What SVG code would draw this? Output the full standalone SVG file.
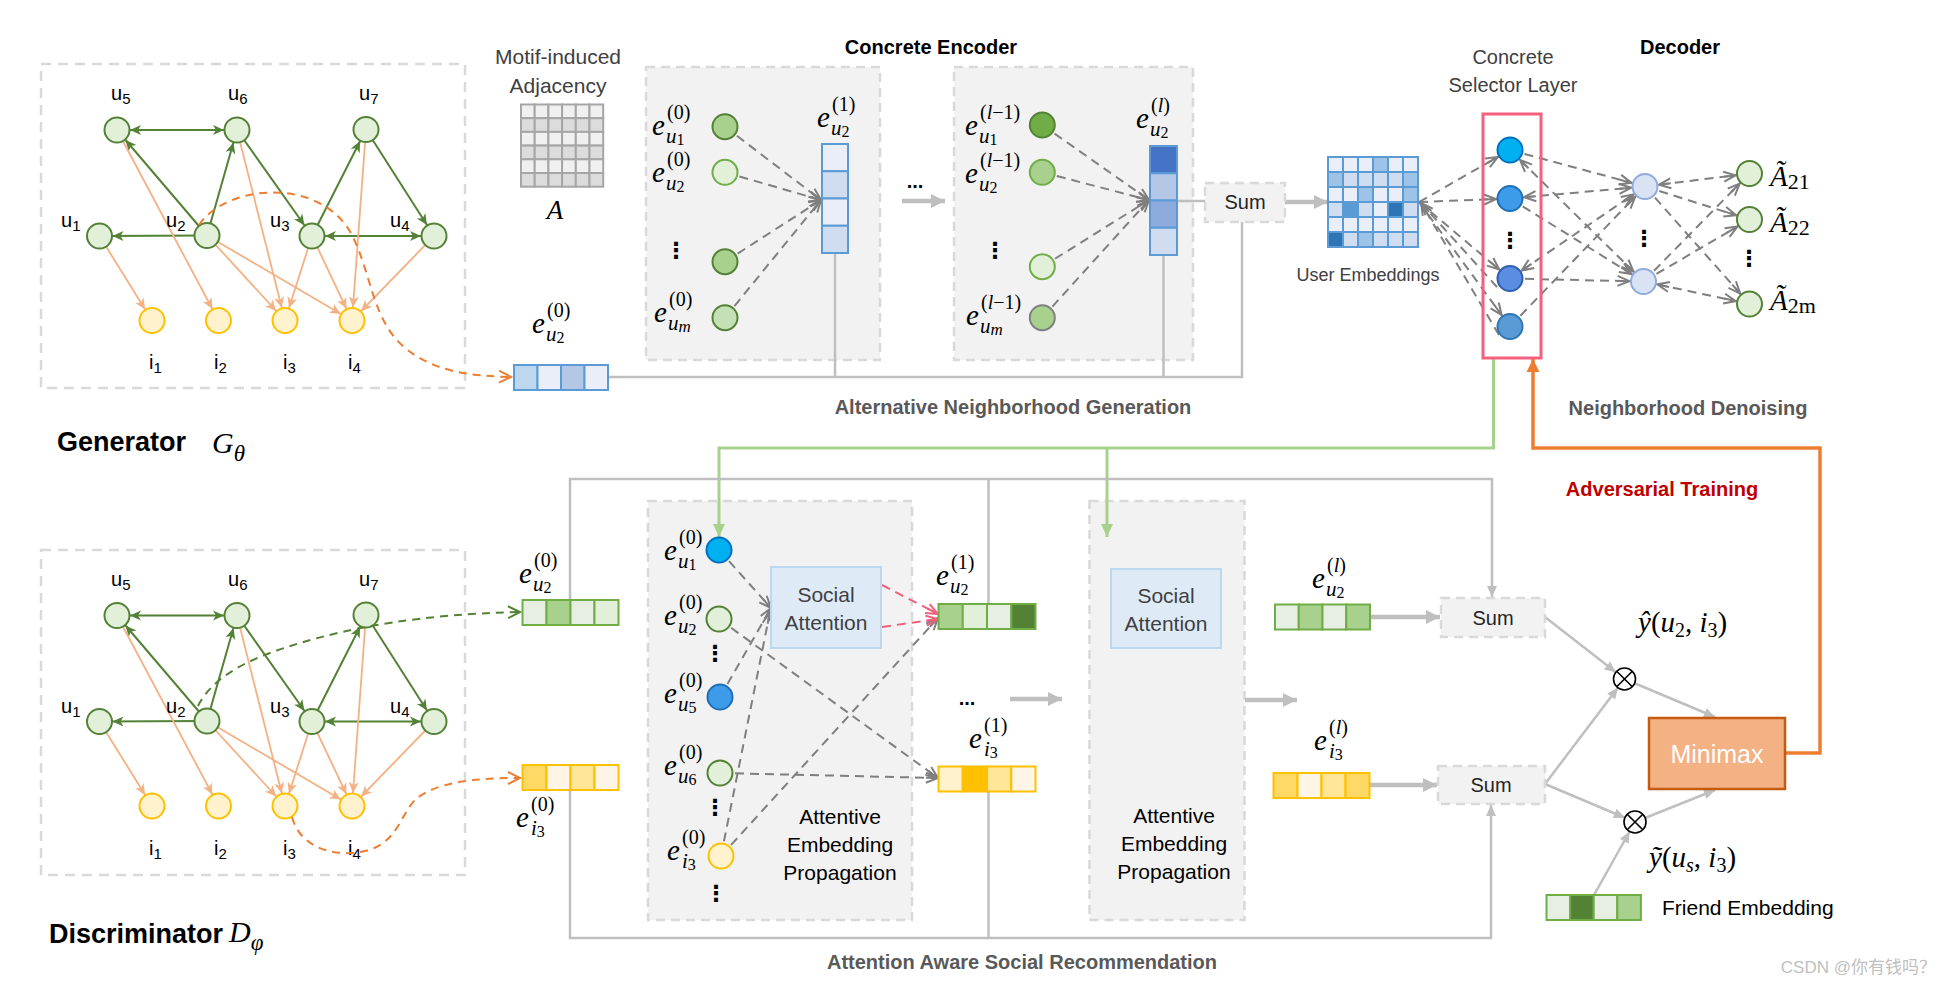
<svg xmlns="http://www.w3.org/2000/svg" width="1952" height="987" viewBox="0 0 1952 987">
<defs>
<style>
.s{font-family:'Liberation Sans',Arial,sans-serif}
.lbl{font-family:'Liberation Sans',Arial,sans-serif;font-size:20px;fill:#000}
.sb15{font-size:15px}
.ttl{font-family:'Liberation Sans',Arial,sans-serif;font-weight:bold;font-size:20px;fill:#000;text-anchor:middle}
.sec{font-family:'Liberation Sans',Arial,sans-serif;font-weight:bold;font-size:20px;fill:#595959;text-anchor:middle}
.txt{font-family:'Liberation Sans',Arial,sans-serif;font-size:20px;fill:#262626;text-anchor:middle}
.me{font-family:'Liberation Serif','Times New Roman',serif;font-style:italic;font-size:29px;fill:#000}
.ms{font-family:'Liberation Serif','Times New Roman',serif;font-size:20px;fill:#000}
.mb{font-family:'Liberation Serif','Times New Roman',serif;font-style:italic;font-size:21px;fill:#000}
.md{font-size:16px;font-style:normal}
.mdi{font-size:17px;font-style:italic}
.it{font-style:italic}
.up{font-style:normal}
.mt{font-family:'Liberation Serif','Times New Roman',serif;font-style:italic;font-size:29px;fill:#000}
.sm{font-size:20px}
.vd{font-family:'DejaVu Sans',sans-serif;font-size:22px;font-weight:bold;fill:#000;text-anchor:middle}
.box{fill:#f2f2f2;stroke:#d9d9d9;stroke-width:2.5;stroke-dasharray:9 6}
.dbox{fill:none;stroke:#d9d9d9;stroke-width:2.5;stroke-dasharray:10 7}
.gE{stroke:#538135;stroke-width:2;fill:none}
.oE{stroke:#f4b183;stroke-width:1.8;fill:none}
.gd{stroke:#7f7f7f;stroke-width:2;stroke-dasharray:9 6;fill:none}
.pk{stroke:#f0607c;stroke-width:2;stroke-dasharray:9 6;fill:none}
.gl{stroke:#bfbfbf;stroke-width:2.5;fill:none}
.gt{stroke:#bfbfbf;stroke-width:4.5;fill:none}
.un{fill:#e2f0d9;stroke:#538135;stroke-width:2}
.itm{fill:#fff2cc;stroke:#ffc000;stroke-width:2}
.vb{stroke:#5b9bd5;stroke-width:2}
.vg{stroke:#70ad47;stroke-width:2}
.vy{stroke:#ffc000;stroke-width:2}
.sa{fill:#deebf7;stroke:#bdd7ee;stroke-width:2}
.am{stroke:#a6a6a6;stroke-width:2}
.ue{stroke:#5b9bd5;stroke-width:2}
</style>
<marker id="mG" markerUnits="userSpaceOnUse" markerWidth="40" markerHeight="20" refX="24" refY="5" orient="auto-start-reverse" overflow="visible"><path d="M0,0 L11,5 L0,10 L3,5z" fill="#538135"/></marker>
<marker id="mO" markerUnits="userSpaceOnUse" markerWidth="40" markerHeight="20" refX="24" refY="5" orient="auto-start-reverse" overflow="visible"><path d="M0,0 L11,5 L0,10 L3,5z" fill="#f4b183"/></marker>
<marker id="mDv" markerUnits="userSpaceOnUse" markerWidth="20" markerHeight="20" refX="12" refY="5" orient="auto-start-reverse" overflow="visible"><path d="M0,0 L12,5 L0,10 M0,5 L12,5" fill="none" stroke="#7f7f7f" stroke-width="2"/></marker>
<marker id="mDr" markerUnits="userSpaceOnUse" markerWidth="40" markerHeight="20" refX="26" refY="5" orient="auto-start-reverse" overflow="visible"><path d="M0,0 L12,5 L0,10 M0,5 L12,5" fill="none" stroke="#7f7f7f" stroke-width="2"/></marker>
<marker id="mCo" markerUnits="userSpaceOnUse" markerWidth="20" markerHeight="20" refX="12" refY="6" orient="auto" overflow="visible"><path d="M0,0 L12,6 L0,12" fill="none" stroke="#ed7d31" stroke-width="2"/></marker>
<marker id="mCg" markerUnits="userSpaceOnUse" markerWidth="20" markerHeight="20" refX="12" refY="6" orient="auto" overflow="visible"><path d="M0,0 L12,6 L0,12" fill="none" stroke="#548235" stroke-width="2"/></marker>
<marker id="mPk" markerUnits="userSpaceOnUse" markerWidth="20" markerHeight="20" refX="12" refY="5" orient="auto" overflow="visible"><path d="M0,0 L12,5 L0,10 M0,5 L12,5" fill="none" stroke="#f0607c" stroke-width="2"/></marker>
<marker id="tS" markerUnits="userSpaceOnUse" markerWidth="20" markerHeight="20" refX="11" refY="5" orient="auto" overflow="visible"><path d="M0,0 L11,5 L0,10z" fill="#bfbfbf"/></marker>
<marker id="tSr" markerUnits="userSpaceOnUse" markerWidth="40" markerHeight="20" refX="22" refY="5" orient="auto" overflow="visible"><path d="M0,0 L11,5 L0,10z" fill="#bfbfbf"/></marker>
<marker id="tL" markerUnits="userSpaceOnUse" markerWidth="20" markerHeight="20" refX="14" refY="7" orient="auto" overflow="visible"><path d="M0,0 L14,7 L0,14z" fill="#bfbfbf"/></marker>
<marker id="tGr" markerUnits="userSpaceOnUse" markerWidth="20" markerHeight="20" refX="13" refY="6" orient="auto" overflow="visible"><path d="M0,0 L13,6 L0,12z" fill="#a9d18e"/></marker>
<marker id="tOr" markerUnits="userSpaceOnUse" markerWidth="20" markerHeight="20" refX="13" refY="6.5" orient="auto" overflow="visible"><path d="M0,0 L13,6.5 L0,13z" fill="#ed7d31"/></marker>
</defs>
<rect width="1952" height="987" fill="#ffffff"/>

<!-- containers -->
<g id="generator-box"><rect class="dbox" x="41" y="64" width="424" height="324"/></g>
<g id="discriminator-box"><rect class="dbox" x="41" y="550" width="424" height="325"/></g>
<g id="encoder-layer1"><rect class="box" x="646" y="67" width="234" height="293"/></g>
<g id="encoder-layerL"><rect class="box" x="954" y="67" width="239" height="293"/></g>
<g id="aep-1"><rect class="box" x="648" y="501" width="264" height="419"/></g>
<g id="aep-2"><rect class="box" x="1089.5" y="501" width="155" height="419"/></g>

<!-- connectors -->
<g id="connectors">
  <g id="gen-edges">
    <line class="gE" x1="117" y1="130" x2="237" y2="130" marker-start="url(#mG)" marker-end="url(#mG)"/>
    <line class="gE" x1="207" y1="235.5" x2="117" y2="130" marker-end="url(#mG)"/>
    <line class="gE" x1="207" y1="235.5" x2="237" y2="130" marker-end="url(#mG)"/>
    <line class="gE" x1="237" y1="130" x2="312" y2="236" marker-end="url(#mG)"/>
    <line class="gE" x1="312" y1="236" x2="366" y2="129.5" marker-end="url(#mG)"/>
    <line class="gE" x1="366" y1="129.5" x2="434" y2="236" marker-end="url(#mG)"/>
    <line class="gE" x1="312" y1="236" x2="434" y2="236" marker-start="url(#mG)" marker-end="url(#mG)"/>
    <line class="gE" x1="207" y1="235.5" x2="99.5" y2="236" marker-end="url(#mG)"/>
    <line class="oE" x1="99.5" y1="236" x2="152" y2="320.5" marker-end="url(#mO)"/>
    <line class="oE" x1="117" y1="130" x2="218.5" y2="320.5" marker-end="url(#mO)"/>
    <line class="oE" x1="207" y1="235.5" x2="285" y2="320.5" marker-end="url(#mO)"/>
    <line class="oE" x1="207" y1="235.5" x2="352" y2="320.5" marker-end="url(#mO)"/>
    <line class="oE" x1="237" y1="130" x2="285" y2="320.5" marker-end="url(#mO)"/>
    <line class="oE" x1="312" y1="236" x2="285" y2="320.5" marker-end="url(#mO)"/>
    <line class="oE" x1="312" y1="236" x2="352" y2="320.5" marker-end="url(#mO)"/>
    <line class="oE" x1="366" y1="129.5" x2="352" y2="320.5" marker-end="url(#mO)"/>
    <line class="oE" x1="434" y1="236" x2="352" y2="320.5" marker-end="url(#mO)"/>
  </g>
  <g id="disc-edges" transform="translate(0,485.5)">
    <line class="gE" x1="117" y1="130" x2="237" y2="130" marker-start="url(#mG)" marker-end="url(#mG)"/>
    <line class="gE" x1="207" y1="235.5" x2="117" y2="130" marker-end="url(#mG)"/>
    <line class="gE" x1="207" y1="235.5" x2="237" y2="130" marker-end="url(#mG)"/>
    <line class="gE" x1="237" y1="130" x2="312" y2="236" marker-end="url(#mG)"/>
    <line class="gE" x1="312" y1="236" x2="366" y2="129.5" marker-end="url(#mG)"/>
    <line class="gE" x1="366" y1="129.5" x2="434" y2="236" marker-end="url(#mG)"/>
    <line class="gE" x1="312" y1="236" x2="434" y2="236" marker-start="url(#mG)" marker-end="url(#mG)"/>
    <line class="gE" x1="207" y1="235.5" x2="99.5" y2="236" marker-end="url(#mG)"/>
    <line class="oE" x1="99.5" y1="236" x2="152" y2="320.5" marker-end="url(#mO)"/>
    <line class="oE" x1="117" y1="130" x2="218.5" y2="320.5" marker-end="url(#mO)"/>
    <line class="oE" x1="207" y1="235.5" x2="285" y2="320.5" marker-end="url(#mO)"/>
    <line class="oE" x1="207" y1="235.5" x2="352" y2="320.5" marker-end="url(#mO)"/>
    <line class="oE" x1="237" y1="130" x2="285" y2="320.5" marker-end="url(#mO)"/>
    <line class="oE" x1="312" y1="236" x2="285" y2="320.5" marker-end="url(#mO)"/>
    <line class="oE" x1="312" y1="236" x2="352" y2="320.5" marker-end="url(#mO)"/>
    <line class="oE" x1="366" y1="129.5" x2="352" y2="320.5" marker-end="url(#mO)"/>
    <line class="oE" x1="434" y1="236" x2="352" y2="320.5" marker-end="url(#mO)"/>
  </g>

  <line class="gd" x1="725" y1="126.7" x2="821" y2="200" marker-end="url(#mDv)"/>
  <line class="gd" x1="725" y1="172.3" x2="821" y2="200" marker-end="url(#mDv)"/>
  <line class="gd" x1="725" y1="261.7" x2="821" y2="200" marker-end="url(#mDv)"/>
  <line class="gd" x1="725" y1="317.7" x2="821" y2="200" marker-end="url(#mDv)"/>
  <line class="gd" x1="1042.3" y1="125" x2="1149" y2="200" marker-end="url(#mDv)"/>
  <line class="gd" x1="1042.3" y1="172.3" x2="1149" y2="200" marker-end="url(#mDv)"/>
  <line class="gd" x1="1042.3" y1="266.7" x2="1149" y2="200" marker-end="url(#mDv)"/>
  <line class="gd" x1="1042.3" y1="317.7" x2="1149" y2="200" marker-end="url(#mDv)"/>

  <path class="gl" d="M608,377 H1242 V222"/>
  <path class="gl" d="M835,253 V377"/>
  <path class="gl" d="M1163.5,255 V377"/>
  <path class="gl" d="M1177,201 H1205"/>
  <line class="gt" x1="902" y1="201" x2="945" y2="201" marker-end="url(#tL)"/>
  <line class="gt" x1="1285" y1="202" x2="1328" y2="202" marker-end="url(#tL)"/>

  <line class="gd" x1="1419" y1="202" x2="1510" y2="150" marker-end="url(#mDr)"/>
  <line class="gd" x1="1419" y1="202" x2="1510" y2="198.5" marker-end="url(#mDr)"/>
  <line class="gd" x1="1419" y1="202" x2="1510" y2="278.5" marker-end="url(#mDr)"/>
  <line class="gd" x1="1419" y1="202" x2="1510" y2="326.5" marker-end="url(#mDr)"/>
  <line class="gd" x1="1497" y1="287" x2="1421" y2="203" marker-end="url(#mDv)"/>
  <line class="gd" x1="1499" y1="335" x2="1421" y2="203" marker-end="url(#mDv)"/>
  <line class="gd" x1="1510" y1="150" x2="1645" y2="186.5" marker-end="url(#mDr)"/>
  <line class="gd" x1="1510" y1="150" x2="1643.5" y2="281.5" marker-start="url(#mDr)" marker-end="url(#mDr)"/>
  <line class="gd" x1="1510" y1="198.5" x2="1645" y2="186.5" marker-start="url(#mDr)" marker-end="url(#mDr)"/>
  <line class="gd" x1="1510" y1="198.5" x2="1643.5" y2="281.5" marker-end="url(#mDr)"/>
  <line class="gd" x1="1510" y1="278.5" x2="1645" y2="186.5" marker-start="url(#mDr)" marker-end="url(#mDr)"/>
  <line class="gd" x1="1510" y1="278.5" x2="1643.5" y2="281.5" marker-end="url(#mDr)"/>
  <line class="gd" x1="1510" y1="326.5" x2="1645" y2="186.5" marker-end="url(#mDr)"/>
  <line class="gd" x1="1645" y1="186.5" x2="1749.5" y2="173.5" marker-start="url(#mDr)" marker-end="url(#mDr)"/>
  <line class="gd" x1="1645" y1="186.5" x2="1749.5" y2="219.5" marker-end="url(#mDr)"/>
  <line class="gd" x1="1645" y1="186.5" x2="1749.5" y2="304" marker-end="url(#mDr)"/>
  <line class="gd" x1="1643.5" y1="281.5" x2="1749.5" y2="173.5" marker-end="url(#mDr)"/>
  <line class="gd" x1="1643.5" y1="281.5" x2="1749.5" y2="219.5" marker-end="url(#mDr)"/>
  <line class="gd" x1="1643.5" y1="281.5" x2="1749.5" y2="304" marker-start="url(#mDr)" marker-end="url(#mDr)"/>

  <path d="M1493.5,358 V448 H719 V537" fill="none" stroke="#a9d18e" stroke-width="3" marker-end="url(#tGr)"/>
  <path d="M1107,448 V537" fill="none" stroke="#a9d18e" stroke-width="3" marker-end="url(#tGr)"/>
  <path d="M1785,753 H1820 V448 H1533 V359" fill="none" stroke="#ed7d31" stroke-width="3.5" marker-end="url(#tOr)"/>

  <path class="gl" d="M570,600 V479 H1492 V597" marker-end="url(#tS)"/>
  <path class="gl" d="M570,790 V938 H1491 V805" marker-end="url(#tS)"/>
  <path class="gl" d="M988.5,604 V479"/>
  <path class="gl" d="M988.5,792 V938"/>
  <line class="gt" x1="1010" y1="699" x2="1062" y2="699" marker-end="url(#tL)"/>
  <line class="gt" x1="1245" y1="700" x2="1297" y2="700" marker-end="url(#tL)"/>
  <line class="gt" x1="1370" y1="617" x2="1440" y2="617" marker-end="url(#tL)"/>
  <line class="gt" x1="1369.5" y1="785" x2="1437" y2="785" marker-end="url(#tL)"/>

  <line class="gd" x1="719" y1="550" x2="771" y2="608" marker-end="url(#mDv)"/>
  <line class="gd" x1="720" y1="697" x2="771" y2="608" marker-end="url(#mDv)"/>
  <line class="gd" x1="721" y1="856" x2="770" y2="612" marker-end="url(#mDv)"/>
  <line class="gd" x1="719" y1="619" x2="938" y2="778" marker-end="url(#mDv)"/>
  <line class="gd" x1="720" y1="773" x2="938" y2="778" marker-end="url(#mDv)"/>
  <line class="gd" x1="721" y1="856" x2="938" y2="618" marker-end="url(#mDv)"/>
  <line class="pk" x1="882" y1="585" x2="938" y2="614" marker-end="url(#mPk)"/>
  <line class="pk" x1="882" y1="627" x2="938" y2="619" marker-end="url(#mPk)"/>

  <line class="gl" x1="1545" y1="617" x2="1624.5" y2="679" marker-end="url(#tSr)"/>
  <line class="gl" x1="1545" y1="784" x2="1624.5" y2="679" marker-end="url(#tSr)"/>
  <line class="gl" x1="1545" y1="784" x2="1635" y2="822" marker-end="url(#tSr)"/>
  <line class="gl" x1="1624.5" y1="679" x2="1715" y2="717" marker-end="url(#tS)"/>
  <line class="gl" x1="1635" y1="822" x2="1715" y2="790" marker-end="url(#tS)"/>
  <line class="gl" x1="1594" y1="895" x2="1635" y2="822" marker-end="url(#tSr)"/>
</g>

<g id="gen-nodes">
  <g id="g-u5"><circle class="un" cx="117" cy="130" r="12.5"/><text class="lbl" x="111" y="100">u<tspan class="sb15" dy="4">5</tspan></text></g>
  <g id="g-u6"><circle class="un" cx="237" cy="130" r="12.5"/><text class="lbl" x="228" y="100">u<tspan class="sb15" dy="4">6</tspan></text></g>
  <g id="g-u7"><circle class="un" cx="366" cy="129.5" r="12.5"/><text class="lbl" x="359" y="100">u<tspan class="sb15" dy="4">7</tspan></text></g>
  <g id="g-u1"><circle class="un" cx="99.5" cy="236" r="12.5"/><text class="lbl" x="61" y="227">u<tspan class="sb15" dy="4">1</tspan></text></g>
  <g id="g-u2"><circle class="un" cx="207" cy="235.5" r="12.5"/><text class="lbl" x="166" y="227">u<tspan class="sb15" dy="4">2</tspan></text></g>
  <g id="g-u3"><circle class="un" cx="312" cy="236" r="12.5"/><text class="lbl" x="270" y="227">u<tspan class="sb15" dy="4">3</tspan></text></g>
  <g id="g-u4"><circle class="un" cx="434" cy="236" r="12.5"/><text class="lbl" x="390" y="227">u<tspan class="sb15" dy="4">4</tspan></text></g>
  <g id="g-i1"><circle class="itm" cx="152" cy="320.5" r="12.5"/><text class="lbl" x="149" y="369">i<tspan class="sb15" dy="4">1</tspan></text></g>
  <g id="g-i2"><circle class="itm" cx="218.5" cy="320.5" r="12.5"/><text class="lbl" x="214" y="369">i<tspan class="sb15" dy="4">2</tspan></text></g>
  <g id="g-i3"><circle class="itm" cx="285" cy="320.5" r="12.5"/><text class="lbl" x="283" y="369">i<tspan class="sb15" dy="4">3</tspan></text></g>
  <g id="g-i4"><circle class="itm" cx="352" cy="320.5" r="12.5"/><text class="lbl" x="348" y="369">i<tspan class="sb15" dy="4">4</tspan></text></g>
</g>
<g id="disc-nodes" transform="translate(0,485.5)">
  <g id="d-u5"><circle class="un" cx="117" cy="130" r="12.5"/><text class="lbl" x="111" y="100">u<tspan class="sb15" dy="4">5</tspan></text></g>
  <g id="d-u6"><circle class="un" cx="237" cy="130" r="12.5"/><text class="lbl" x="228" y="100">u<tspan class="sb15" dy="4">6</tspan></text></g>
  <g id="d-u7"><circle class="un" cx="366" cy="129.5" r="12.5"/><text class="lbl" x="359" y="100">u<tspan class="sb15" dy="4">7</tspan></text></g>
  <g id="d-u1"><circle class="un" cx="99.5" cy="236" r="12.5"/><text class="lbl" x="61" y="227">u<tspan class="sb15" dy="4">1</tspan></text></g>
  <g id="d-u2"><circle class="un" cx="207" cy="235.5" r="12.5"/><text class="lbl" x="166" y="227">u<tspan class="sb15" dy="4">2</tspan></text></g>
  <g id="d-u3"><circle class="un" cx="312" cy="236" r="12.5"/><text class="lbl" x="270" y="227">u<tspan class="sb15" dy="4">3</tspan></text></g>
  <g id="d-u4"><circle class="un" cx="434" cy="236" r="12.5"/><text class="lbl" x="390" y="227">u<tspan class="sb15" dy="4">4</tspan></text></g>
  <g id="d-i1"><circle class="itm" cx="152" cy="320.5" r="12.5"/><text class="lbl" x="149" y="369">i<tspan class="sb15" dy="4">1</tspan></text></g>
  <g id="d-i2"><circle class="itm" cx="218.5" cy="320.5" r="12.5"/><text class="lbl" x="214" y="369">i<tspan class="sb15" dy="4">2</tspan></text></g>
  <g id="d-i3"><circle class="itm" cx="285" cy="320.5" r="12.5"/><text class="lbl" x="283" y="369">i<tspan class="sb15" dy="4">3</tspan></text></g>
  <g id="d-i4"><circle class="itm" cx="352" cy="320.5" r="12.5"/><text class="lbl" x="348" y="369">i<tspan class="sb15" dy="4">4</tspan></text></g>
</g>

<g id="curves">
  <path d="M199,225 C225,185 320,175 352,235 C372,275 372,320 405,348 C435,372 470,376 511,377" fill="none" stroke="#ed7d31" stroke-width="2" stroke-dasharray="8 6" marker-end="url(#mCo)"/>
  <path d="M198,706 C215,672 260,655 300,643 C350,628 420,614 520,612" fill="none" stroke="#548235" stroke-width="2" stroke-dasharray="8 6" marker-end="url(#mCg)"/>
  <path d="M292,817 C300,848 335,858 365,851 C398,843 400,815 415,800 C435,782 475,778 520,778" fill="none" stroke="#ed7d31" stroke-width="2" stroke-dasharray="8 6" marker-end="url(#mCo)"/>
</g>

<g id="adjacency">
  <text class="txt" x="558" y="64" style="font-size:21px;fill:#404040">Motif-induced</text>
  <text class="txt" x="558" y="93" style="font-size:21px;fill:#404040">Adjacency</text>
  <g class="am">
    <rect x="521" y="104.5" width="13.7" height="13.7" fill="#f0f0f0"/><rect x="534.7" y="104.5" width="13.7" height="13.7" fill="#f0f0f0"/><rect x="548.4" y="104.5" width="13.7" height="13.7" fill="#f0f0f0"/><rect x="562.1" y="104.5" width="13.7" height="13.7" fill="#f0f0f0"/><rect x="575.8" y="104.5" width="13.7" height="13.7" fill="#f0f0f0"/><rect x="589.5" y="104.5" width="13.7" height="13.7" fill="#f0f0f0"/>
    <rect x="521" y="118.2" width="13.7" height="13.7" fill="#dcdcdc"/><rect x="534.7" y="118.2" width="13.7" height="13.7" fill="#dcdcdc"/><rect x="548.4" y="118.2" width="13.7" height="13.7" fill="#dcdcdc"/><rect x="562.1" y="118.2" width="13.7" height="13.7" fill="#dcdcdc"/><rect x="575.8" y="118.2" width="13.7" height="13.7" fill="#dcdcdc"/><rect x="589.5" y="118.2" width="13.7" height="13.7" fill="#dcdcdc"/>
    <rect x="521" y="131.9" width="13.7" height="13.7" fill="#f0f0f0"/><rect x="534.7" y="131.9" width="13.7" height="13.7" fill="#f0f0f0"/><rect x="548.4" y="131.9" width="13.7" height="13.7" fill="#f0f0f0"/><rect x="562.1" y="131.9" width="13.7" height="13.7" fill="#f0f0f0"/><rect x="575.8" y="131.9" width="13.7" height="13.7" fill="#f0f0f0"/><rect x="589.5" y="131.9" width="13.7" height="13.7" fill="#f0f0f0"/>
    <rect x="521" y="145.6" width="13.7" height="13.7" fill="#dcdcdc"/><rect x="534.7" y="145.6" width="13.7" height="13.7" fill="#dcdcdc"/><rect x="548.4" y="145.6" width="13.7" height="13.7" fill="#dcdcdc"/><rect x="562.1" y="145.6" width="13.7" height="13.7" fill="#dcdcdc"/><rect x="575.8" y="145.6" width="13.7" height="13.7" fill="#dcdcdc"/><rect x="589.5" y="145.6" width="13.7" height="13.7" fill="#dcdcdc"/>
    <rect x="521" y="159.3" width="13.7" height="13.7" fill="#f0f0f0"/><rect x="534.7" y="159.3" width="13.7" height="13.7" fill="#f0f0f0"/><rect x="548.4" y="159.3" width="13.7" height="13.7" fill="#f0f0f0"/><rect x="562.1" y="159.3" width="13.7" height="13.7" fill="#f0f0f0"/><rect x="575.8" y="159.3" width="13.7" height="13.7" fill="#f0f0f0"/><rect x="589.5" y="159.3" width="13.7" height="13.7" fill="#f0f0f0"/>
    <rect x="521" y="173" width="13.7" height="13.7" fill="#dcdcdc"/><rect x="534.7" y="173" width="13.7" height="13.7" fill="#dcdcdc"/><rect x="548.4" y="173" width="13.7" height="13.7" fill="#dcdcdc"/><rect x="562.1" y="173" width="13.7" height="13.7" fill="#dcdcdc"/><rect x="575.8" y="173" width="13.7" height="13.7" fill="#dcdcdc"/><rect x="589.5" y="173" width="13.7" height="13.7" fill="#dcdcdc"/>
  </g>
  <text class="me" x="555" y="219" text-anchor="middle" style="font-size:27px">A</text>
</g>

<g id="enc1-nodes">
  <g id="enc1-n1"><circle cx="725" cy="126.7" r="12.5" fill="#a9d18e" stroke="#538135" stroke-width="2"/></g>
  <g id="enc1-n2"><circle cx="725" cy="172.3" r="12.5" fill="#e2f0d9" stroke="#70ad47" stroke-width="2"/></g>
  <g id="enc1-n3"><circle cx="725" cy="261.7" r="12.5" fill="#a9d18e" stroke="#538135" stroke-width="2"/></g>
  <g id="enc1-n4"><circle cx="725" cy="317.7" r="12.5" fill="#c5e0b4" stroke="#538135" stroke-width="2"/></g>
  <text class="vd" x="676" y="258">⋮</text>
  <g><text class="me" x="652" y="135">e</text><text class="ms" x="667" y="119">(0)</text><text class="mb" x="666" y="143">u<tspan class="md" dy="2">1</tspan></text></g>
  <g><text class="me" x="652" y="182">e</text><text class="ms" x="667" y="166">(0)</text><text class="mb" x="666" y="190">u<tspan class="md" dy="2">2</tspan></text></g>
  <g><text class="me" x="654" y="322">e</text><text class="ms" x="669" y="306">(0)</text><text class="mb" x="668" y="330">u<tspan class="mdi" dy="2">m</tspan></text></g>
</g>
<g id="enc1-vector">
  <rect class="vb" x="822" y="144" width="26" height="27.25" fill="#e9eef8"/>
  <rect class="vb" x="822" y="171.25" width="26" height="27.25" fill="#d0dcef"/>
  <rect class="vb" x="822" y="198.5" width="26" height="27.25" fill="#e9eef8"/>
  <rect class="vb" x="822" y="225.75" width="26" height="27.25" fill="#d0dcef"/>
  <g><text class="me" x="817" y="127">e</text><text class="ms" x="832" y="111">(1)</text><text class="mb" x="831" y="135">u<tspan class="md" dy="2">2</tspan></text></g>
</g>
<text class="ttl" x="915" y="188">...</text>

<g id="encL-nodes">
  <g id="encL-n1"><circle cx="1042.3" cy="125" r="12.5" fill="#70ad47" stroke="#548235" stroke-width="2"/></g>
  <g id="encL-n2"><circle cx="1042.3" cy="172.3" r="12.5" fill="#a9d18e" stroke="#70ad47" stroke-width="2"/></g>
  <g id="encL-n3"><circle cx="1042.3" cy="266.7" r="12.5" fill="#e2f0d9" stroke="#70ad47" stroke-width="2"/></g>
  <g id="encL-n4"><circle cx="1042.3" cy="317.7" r="12.5" fill="#a9d18e" stroke="#7f7f7f" stroke-width="2"/></g>
  <text class="vd" x="995" y="258">⋮</text>
  <g><text class="me" x="965" y="135">e</text><text class="ms" x="980" y="119">(<tspan class="it">l</tspan>−1)</text><text class="mb" x="979" y="143">u<tspan class="md" dy="2">1</tspan></text></g>
  <g><text class="me" x="965" y="183">e</text><text class="ms" x="980" y="167">(<tspan class="it">l</tspan>−1)</text><text class="mb" x="979" y="191">u<tspan class="md" dy="2">2</tspan></text></g>
  <g><text class="me" x="966" y="325">e</text><text class="ms" x="981" y="309">(<tspan class="it">l</tspan>−1)</text><text class="mb" x="980" y="333">u<tspan class="mdi" dy="2">m</tspan></text></g>
</g>
<g id="encL-vector">
  <rect class="vb" x="1150" y="146" width="27" height="27.25" fill="#4472c4"/>
  <rect class="vb" x="1150" y="173.25" width="27" height="27.25" fill="#b4c7e7"/>
  <rect class="vb" x="1150" y="200.5" width="27" height="27.25" fill="#8faadc"/>
  <rect class="vb" x="1150" y="227.75" width="27" height="27.25" fill="#d0dcef"/>
  <g><text class="me" x="1136" y="128">e</text><text class="ms" x="1151" y="112">(<tspan class="it">l</tspan>)</text><text class="mb" x="1150" y="136">u<tspan class="md" dy="2">2</tspan></text></g>
</g>
<text class="ttl" x="931" y="54">Concrete Encoder</text>

<g id="sum-gen"><rect class="box" x="1205" y="183" width="80" height="39"/><text class="txt" x="1245" y="209">Sum</text></g>

<g id="gen-input-vector">
  <rect class="vb" x="514" y="365" width="23.5" height="25" fill="#bdd7ee"/>
  <rect class="vb" x="537.5" y="365" width="23.5" height="25" fill="#e9eef8"/>
  <rect class="vb" x="561" y="365" width="23.5" height="25" fill="#b4c7e7"/>
  <rect class="vb" x="584.5" y="365" width="23.5" height="25" fill="#e9eef8"/>
  <g><text class="me" x="532" y="333">e</text><text class="ms" x="547" y="317">(0)</text><text class="mb" x="546" y="341">u<tspan class="md" dy="2">2</tspan></text></g>
</g>
<text class="sec" x="1013" y="414">Alternative Neighborhood Generation</text>

<g id="user-embeddings">
  <g class="ue">
    <rect x="1328" y="157" width="15" height="15" fill="#e9eef8"/><rect x="1343" y="157" width="15" height="15" fill="#e9eef8"/><rect x="1358" y="157" width="15" height="15" fill="#e9eef8"/><rect x="1373" y="157" width="15" height="15" fill="#9dc3e6"/><rect x="1388" y="157" width="15" height="15" fill="#e9eef8"/><rect x="1403" y="157" width="15" height="15" fill="#e9eef8"/>
    <rect x="1328" y="172" width="15" height="15" fill="#9dc3e6"/><rect x="1343" y="172" width="15" height="15" fill="#d0dcef"/><rect x="1358" y="172" width="15" height="15" fill="#d0dcef"/><rect x="1373" y="172" width="15" height="15" fill="#d0dcef"/><rect x="1388" y="172" width="15" height="15" fill="#d0dcef"/><rect x="1403" y="172" width="15" height="15" fill="#9dc3e6"/>
    <rect x="1328" y="187" width="15" height="15" fill="#e9eef8"/><rect x="1343" y="187" width="15" height="15" fill="#e9eef8"/><rect x="1358" y="187" width="15" height="15" fill="#9dc3e6"/><rect x="1373" y="187" width="15" height="15" fill="#e9eef8"/><rect x="1388" y="187" width="15" height="15" fill="#e9eef8"/><rect x="1403" y="187" width="15" height="15" fill="#9dc3e6"/>
    <rect x="1328" y="202" width="15" height="15" fill="#d0dcef"/><rect x="1343" y="202" width="15" height="15" fill="#5b9bd5"/><rect x="1358" y="202" width="15" height="15" fill="#d0dcef"/><rect x="1373" y="202" width="15" height="15" fill="#e9eef8"/><rect x="1388" y="202" width="15" height="15" fill="#2e75b6"/><rect x="1403" y="202" width="15" height="15" fill="#d0dcef"/>
    <rect x="1328" y="217" width="15" height="15" fill="#e9eef8"/><rect x="1343" y="217" width="15" height="15" fill="#e9eef8"/><rect x="1358" y="217" width="15" height="15" fill="#e9eef8"/><rect x="1373" y="217" width="15" height="15" fill="#e9eef8"/><rect x="1388" y="217" width="15" height="15" fill="#e9eef8"/><rect x="1403" y="217" width="15" height="15" fill="#e9eef8"/>
    <rect x="1328" y="232" width="15" height="15" fill="#2e75b6"/><rect x="1343" y="232" width="15" height="15" fill="#d0dcef"/><rect x="1358" y="232" width="15" height="15" fill="#9dc3e6"/><rect x="1373" y="232" width="15" height="15" fill="#d0dcef"/><rect x="1388" y="232" width="15" height="15" fill="#d0dcef"/><rect x="1403" y="232" width="15" height="15" fill="#d0dcef"/>
  </g>
  <text class="txt" x="1368" y="281" style="font-size:18px;fill:#404040">User Embeddings</text>
</g>

<g id="selector-layer">
  <text class="txt" x="1513" y="64" style="fill:#404040">Concrete</text>
  <text class="txt" x="1513" y="92" style="fill:#404040">Selector Layer</text>
  <rect x="1483" y="114" width="58" height="244" fill="none" stroke="#f4607e" stroke-width="3"/>
  <g id="sel-1"><circle cx="1510" cy="150" r="12.5" fill="#00b0f0" stroke="#0070c0" stroke-width="2"/></g>
  <g id="sel-2"><circle cx="1510" cy="198.5" r="12.5" fill="#3d9be9" stroke="#1f6fb5" stroke-width="2"/></g>
  <g id="sel-3"><circle cx="1510" cy="278.5" r="12.5" fill="#5b8ee3" stroke="#2e5fae" stroke-width="2"/></g>
  <g id="sel-4"><circle cx="1510" cy="326.5" r="12.5" fill="#5b9bd5" stroke="#2e75b6" stroke-width="2"/></g>
  <text class="vd" x="1510" y="248">⋮</text>
</g>

<g id="decoder">
  <text class="ttl" x="1680" y="54">Decoder</text>
  <g id="hid-1"><circle cx="1645" cy="186.5" r="12.5" fill="#dae3f3" stroke="#8faadc" stroke-width="2"/></g>
  <g id="hid-2"><circle cx="1643.5" cy="281.5" r="12.5" fill="#dae3f3" stroke="#8faadc" stroke-width="2"/></g>
  <text class="vd" x="1644" y="246">⋮</text>
  <g id="out-21"><circle class="un" cx="1749.5" cy="173.5" r="12.5"/><text class="mt" x="1770" y="186" style="font-size:29px">Ã<tspan class="up" style="font-size:22px" dy="3">21</tspan></text></g>
  <g id="out-22"><circle class="un" cx="1749.5" cy="219.5" r="12.5"/><text class="mt" x="1770" y="232" style="font-size:29px">Ã<tspan class="up" style="font-size:22px" dy="3">22</tspan></text></g>
  <g id="out-2m"><circle class="un" cx="1749.5" cy="304" r="12.5"/><text class="mt" x="1770" y="310" style="font-size:29px">Ã<tspan class="up" style="font-size:22px" dy="3">2m</tspan></text></g>
  <text class="vd" x="1749" y="266">⋮</text>
</g>
<text class="sec" x="1688" y="415">Neighborhood Denoising</text>
<text class="sec" x="1662" y="496" style="fill:#c00000">Adversarial Training</text>

<g id="disc-user-vector">
  <rect class="vg" x="522.5" y="600" width="24" height="25" fill="#e7eee3"/>
  <rect class="vg" x="546.5" y="600" width="24" height="25" fill="#a9d18e"/>
  <rect class="vg" x="570.5" y="600" width="24" height="25" fill="#e7eee3"/>
  <rect class="vg" x="594.5" y="600" width="24" height="25" fill="#e2f0d9"/>
  <g><text class="me" x="519" y="583">e</text><text class="ms" x="534" y="567">(0)</text><text class="mb" x="533" y="591">u<tspan class="md" dy="2">2</tspan></text></g>
</g>
<g id="disc-item-vector">
  <rect class="vy" x="522.5" y="765" width="24" height="25" fill="#ffd966"/>
  <rect class="vy" x="546.5" y="765" width="24" height="25" fill="#fff5e6"/>
  <rect class="vy" x="570.5" y="765" width="24" height="25" fill="#ffe699"/>
  <rect class="vy" x="594.5" y="765" width="24" height="25" fill="#fff5e6"/>
  <g><text class="me" x="516" y="827">e</text><text class="ms" x="531" y="811">(0)</text><text class="mb" x="531" y="835">i<tspan class="md" dy="2">3</tspan></text></g>
</g>

<g id="aep1-nodes">
  <g id="a-u1"><circle cx="719" cy="550" r="12.5" fill="#00b0f0" stroke="#0070c0" stroke-width="2"/><text class="me" x="664" y="560">e</text><text class="ms" x="679" y="544">(0)</text><text class="mb" x="678" y="568">u<tspan class="md" dy="2">1</tspan></text></g>
  <g id="a-u2"><circle class="un" cx="719" cy="619" r="12.5"/><text class="me" x="664" y="625">e</text><text class="ms" x="679" y="609">(0)</text><text class="mb" x="678" y="633">u<tspan class="md" dy="2">2</tspan></text></g>
  <g id="a-u5"><circle cx="720" cy="697" r="12.5" fill="#3d9be9" stroke="#1f6fb5" stroke-width="2"/><text class="me" x="664" y="703">e</text><text class="ms" x="679" y="687">(0)</text><text class="mb" x="678" y="711">u<tspan class="md" dy="2">5</tspan></text></g>
  <g id="a-u6"><circle class="un" cx="720" cy="773" r="12.5"/><text class="me" x="664" y="775">e</text><text class="ms" x="679" y="759">(0)</text><text class="mb" x="678" y="783">u<tspan class="md" dy="2">6</tspan></text></g>
  <g id="a-i3"><circle class="itm" cx="721" cy="856" r="12.5"/><text class="me" x="667" y="860">e</text><text class="ms" x="682" y="844">(0)</text><text class="mb" x="682" y="868">i<tspan class="md" dy="2">3</tspan></text></g>
  <text class="vd" x="715" y="661">⋮</text>
  <text class="vd" x="715" y="815">⋮</text>
  <text class="vd" x="716" y="901">⋮</text>
</g>
<g id="social-attention-1"><rect class="sa" x="771" y="567" width="110" height="81"/><text class="txt" x="826" y="602" style="font-size:21px;fill:#404040">Social</text><text class="txt" x="826" y="630" style="font-size:21px;fill:#404040">Attention</text></g>
<g id="aep1-text"><text class="txt" x="840" y="824" style="font-size:21px;fill:#000">Attentive</text><text class="txt" x="840" y="852" style="font-size:21px;fill:#000">Embedding</text><text class="txt" x="840" y="880" style="font-size:21px;fill:#000">Propagation</text></g>
<g id="aep1-user-out">
  <rect class="vg" x="938.5" y="604" width="24.25" height="25" fill="#a9d18e"/>
  <rect class="vg" x="962.75" y="604" width="24.25" height="25" fill="#e2f0d9"/>
  <rect class="vg" x="987" y="604" width="24.25" height="25" fill="#e7eee3"/>
  <rect class="vg" x="1011.25" y="604" width="24.25" height="25" fill="#548235"/>
  <g><text class="me" x="936" y="585">e</text><text class="ms" x="951" y="569">(1)</text><text class="mb" x="950" y="593">u<tspan class="md" dy="2">2</tspan></text></g>
</g>
<g id="aep1-item-out">
  <rect class="vy" x="938.5" y="766.5" width="24.25" height="25" fill="#fff2cc"/>
  <rect class="vy" x="962.75" y="766.5" width="24.25" height="25" fill="#ffc000"/>
  <rect class="vy" x="987" y="766.5" width="24.25" height="25" fill="#ffe699"/>
  <rect class="vy" x="1011.25" y="766.5" width="24.25" height="25" fill="#fff5e6"/>
  <g><text class="me" x="969" y="748">e</text><text class="ms" x="984" y="732">(1)</text><text class="mb" x="984" y="756">i<tspan class="md" dy="2">3</tspan></text></g>
</g>
<text class="ttl" x="967" y="705">...</text>

<g id="social-attention-2"><rect class="sa" x="1111" y="569" width="110" height="79"/><text class="txt" x="1166" y="603" style="font-size:21px;fill:#404040">Social</text><text class="txt" x="1166" y="631" style="font-size:21px;fill:#404040">Attention</text></g>
<g id="aep2-text"><text class="txt" x="1174" y="823" style="font-size:21px;fill:#000">Attentive</text><text class="txt" x="1174" y="851" style="font-size:21px;fill:#000">Embedding</text><text class="txt" x="1174" y="879" style="font-size:21px;fill:#000">Propagation</text></g>

<g id="final-user-vector">
  <rect class="vg" x="1275" y="604.5" width="23.75" height="25" fill="#e7eee3"/>
  <rect class="vg" x="1298.75" y="604.5" width="23.75" height="25" fill="#a9d18e"/>
  <rect class="vg" x="1322.5" y="604.5" width="23.75" height="25" fill="#e7eee3"/>
  <rect class="vg" x="1346.25" y="604.5" width="23.75" height="25" fill="#a9d18e"/>
  <g><text class="me" x="1312" y="588">e</text><text class="ms" x="1327" y="572">(<tspan class="it">l</tspan>)</text><text class="mb" x="1326" y="596">u<tspan class="md" dy="2">2</tspan></text></g>
</g>
<g id="final-item-vector">
  <rect class="vy" x="1273.5" y="773" width="24" height="25" fill="#ffd966"/>
  <rect class="vy" x="1297.5" y="773" width="24" height="25" fill="#fff5e6"/>
  <rect class="vy" x="1321.5" y="773" width="24" height="25" fill="#ffe699"/>
  <rect class="vy" x="1345.5" y="773" width="24" height="25" fill="#ffd966"/>
  <g><text class="me" x="1314" y="750">e</text><text class="ms" x="1329" y="734">(<tspan class="it">l</tspan>)</text><text class="mb" x="1329" y="758">i<tspan class="md" dy="2">3</tspan></text></g>
</g>
<g id="sum-user"><rect class="box" x="1441" y="598" width="104" height="39"/><text class="txt" x="1493" y="625">Sum</text></g>
<g id="sum-item"><rect class="box" x="1438" y="766" width="107" height="38"/><text class="txt" x="1491" y="792">Sum</text></g>

<g id="otimes-1"><circle cx="1624.5" cy="679" r="11" fill="#fff" stroke="#000" stroke-width="1.6"/><path d="M1616.7,671.2 L1632.3,686.8 M1632.3,671.2 L1616.7,686.8" stroke="#000" stroke-width="1.6"/></g>
<g id="otimes-2"><circle cx="1635" cy="822" r="11" fill="#fff" stroke="#000" stroke-width="1.6"/><path d="M1627.2,814.2 L1642.8,829.8 M1642.8,814.2 L1627.2,829.8" stroke="#000" stroke-width="1.6"/></g>

<g id="minimax"><rect x="1649" y="718" width="136" height="71" fill="#f4b183" stroke="#c55a11" stroke-width="2.5"/><text class="txt" x="1717" y="763" style="font-size:25px;fill:#ffffff">Minimax</text></g>

<text class="mt" x="1638" y="632">ŷ<tspan class="up">(</tspan>u<tspan class="up sm" dy="5">2</tspan><tspan class="up" dy="-5">, </tspan>i<tspan class="up sm" dy="5">3</tspan><tspan class="up" dy="-5">)</tspan></text>
<text class="mt" x="1649" y="867">ỹ<tspan class="up">(</tspan>u<tspan class="sm" dy="5">s</tspan><tspan class="up" dy="-5">, </tspan>i<tspan class="up sm" dy="5">3</tspan><tspan class="up" dy="-5">)</tspan></text>

<g id="friend-embedding">
  <rect class="vg" x="1546.5" y="895" width="23.6" height="25" fill="#e7eee3"/>
  <rect class="vg" x="1570.1" y="895" width="23.6" height="25" fill="#548235"/>
  <rect class="vg" x="1593.7" y="895" width="23.6" height="25" fill="#e7eee3"/>
  <rect class="vg" x="1617.3" y="895" width="23.6" height="25" fill="#a9d18e"/>
  <text class="lbl" x="1662" y="915" style="font-size:21px">Friend Embedding</text>
</g>

<text class="sec" x="1022" y="969">Attention Aware Social Recommendation</text>

<g id="titles">
  <text class="s" x="57" y="451" style="font-size:27px;font-weight:bold">Generator</text>
  <text class="mt" x="212" y="453" style="font-size:30px">G<tspan style="font-size:23px" dy="8">θ</tspan></text>
  <text class="s" x="49" y="943" style="font-size:27px;font-weight:bold">Discriminator</text>
  <text class="mt" x="229" y="942" style="font-size:30px">D<tspan style="font-size:23px" dy="8">φ</tspan></text>
</g>

<text x="1936" y="973" text-anchor="end" style="font-family:'Liberation Sans','Noto Sans CJK SC',sans-serif;font-size:17px;fill:#c0c0c0">CSDN @你有钱吗？</text>
</svg>
